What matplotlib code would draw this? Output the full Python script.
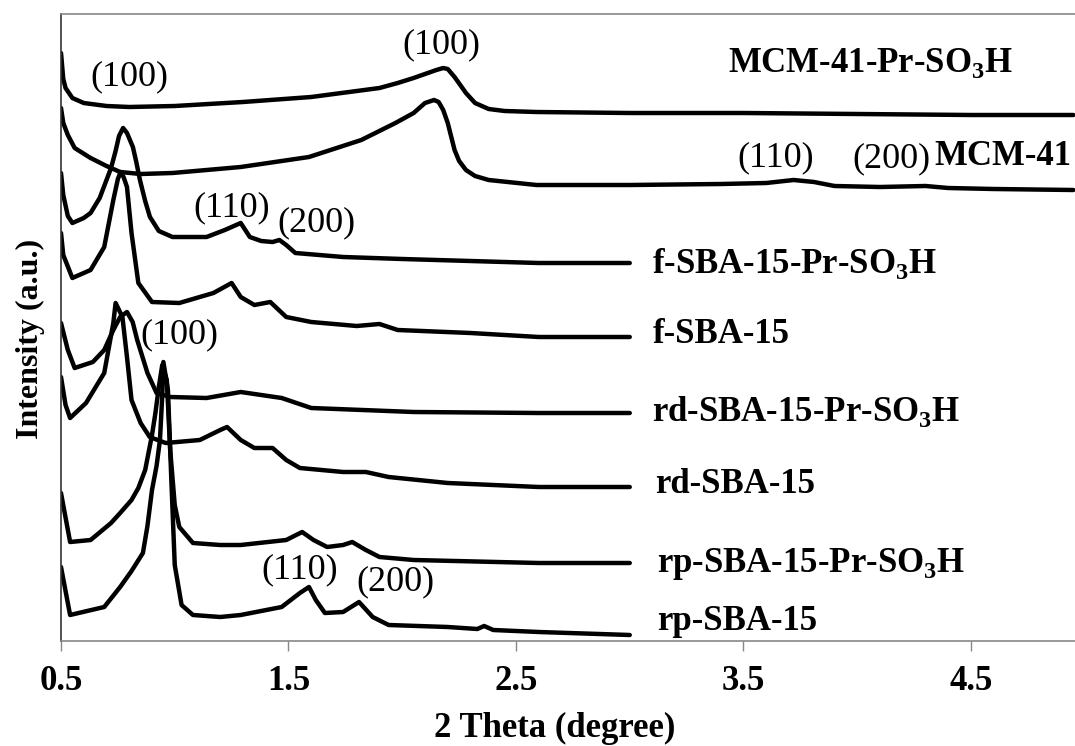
import numpy as np
import matplotlib
matplotlib.use('Agg')
import matplotlib.pyplot as plt

plt.rcParams['font.family'] = ['Liberation Serif', 'DejaVu Serif']
plt.rcParams['mathtext.fontset'] = 'custom'
plt.rcParams['mathtext.rm'] = 'Liberation Serif'
plt.rcParams['mathtext.bf'] = 'Liberation Serif:bold'

# low-angle XRD patterns, stacked (intensity in arbitrary offset units)
tt_mcm_pr = [0.50, 0.51, 0.52, 0.55, 0.60, 0.70, 0.80, 1.00, 1.30, 1.60, 1.90, 1.98, 2.05, 2.10,
             2.15, 2.18, 2.20, 2.23, 2.28, 2.32, 2.38, 2.45, 2.59, 3.00, 3.50, 4.00, 4.50, 4.95]
int_mcm_pr = [588, 562, 553, 543, 538, 535, 534, 535, 539, 544, 553, 558, 563, 567,
              571, 573, 572, 564, 548, 538, 532, 530, 529, 528, 528, 527, 526, 526]

tt_mcm = [0.50, 0.51, 0.53, 0.56, 0.63, 0.70, 0.76, 0.85, 0.99, 1.29, 1.59, 1.82, 1.97, 2.05, 2.10,
          2.14, 2.16, 2.18, 2.20, 2.23, 2.25, 2.28, 2.32, 2.38, 2.59, 3.00, 3.40, 3.60, 3.72,
          3.81, 3.90, 4.10, 4.30, 4.40, 4.60, 4.95]
int_mcm = [533, 518, 506, 493, 483, 475, 469, 467, 468, 474, 484, 501, 518, 528, 538,
           541, 539, 531, 518, 491, 480, 471, 465, 461, 456, 456, 457, 458, 461,
           459, 455, 454, 455, 453, 452, 451]

tt_f_pr = [0.50, 0.51, 0.53, 0.55, 0.60, 0.63, 0.67, 0.70, 0.72, 0.74, 0.755, 0.773, 0.79, 0.816,
           0.83, 0.847, 0.87, 0.891, 0.93, 0.99, 1.14, 1.22, 1.26, 1.29, 1.33, 1.38, 1.43, 1.46,
           1.49, 1.53, 1.74, 2.00, 2.60, 3.00]
int_f_pr = [468, 446, 425, 418, 423, 428, 443, 461, 473, 490, 505, 513, 508, 494,
            480, 461, 440, 424, 410, 404, 404, 411, 415, 418, 404, 400, 399, 401,
            396, 388, 384, 382, 378, 378]

tt_f = [0.50, 0.51, 0.55, 0.63, 0.69, 0.73, 0.75, 0.762, 0.775, 0.79, 0.81, 0.84, 0.90, 1.02,
        1.17, 1.25, 1.29, 1.35, 1.42, 1.49, 1.60, 1.80, 1.90, 1.98, 2.30, 2.60, 3.00]
int_f = [408, 386, 363, 371, 394, 441, 462, 469, 464, 454, 408, 358, 339, 338,
         348, 358, 344, 336, 339, 324, 319, 315, 317, 311, 308, 304, 304]

tt_rd_pr = [0.50, 0.53, 0.56, 0.64, 0.69, 0.73, 0.76, 0.79, 0.815, 0.835, 0.88, 0.92, 0.98, 1.14,
            1.29, 1.47, 1.60, 2.05, 2.60, 3.00]
int_rd_pr = [318, 291, 273, 279, 291, 311, 324, 329, 319, 301, 268, 248, 244, 243,
             249, 243, 233, 229, 228, 228]

tt_rd = [0.50, 0.52, 0.54, 0.61, 0.69, 0.73, 0.74, 0.77, 0.79, 0.81, 0.85, 0.89, 0.96, 1.11,
         1.20, 1.23, 1.29, 1.35, 1.43, 1.49, 1.55, 1.74, 1.84, 1.94, 2.20, 2.60, 3.00]
int_rd = [264, 236, 223, 238, 268, 318, 338, 324, 284, 241, 218, 204, 198, 201,
          211, 214, 201, 193, 193, 181, 173, 169, 169, 164, 158, 154, 154]

tt_rp_pr = [0.50, 0.54, 0.63, 0.72, 0.76, 0.81, 0.84, 0.87, 0.90, 0.915, 0.93, 0.945, 0.965, 0.98,
            1.00, 1.02, 1.08, 1.20, 1.29, 1.49, 1.56, 1.61, 1.67, 1.74, 1.78, 1.84, 1.90, 2.05,
            2.60, 3.00]
int_rp_pr = [148, 99, 101, 118, 128, 141, 153, 171, 206, 228, 254, 276, 261, 191,
             136, 114, 98, 96, 96, 101, 109, 101, 94, 96, 99, 91, 84, 81,
             78, 78]

tt_rp = [0.50, 0.54, 0.69, 0.76, 0.81, 0.86, 0.88, 0.90, 0.92, 0.935, 0.945, 0.95, 0.97, 0.985,
         1.00, 1.03, 1.08, 1.20, 1.29, 1.47, 1.55, 1.59, 1.62, 1.66, 1.74, 1.81, 1.87, 1.94,
         2.20, 2.33, 2.36, 2.40, 2.60, 3.00]
int_rp = [74, 26, 34, 54, 70, 88, 115, 151, 175, 201, 245, 279, 251, 161,
          76, 36, 26, 24, 26, 34, 48, 54, 41, 28, 29, 39, 24, 16,
          14, 12, 15, 11, 9, 6]

patterns = [(tt_mcm_pr, int_mcm_pr), (tt_mcm, int_mcm), (tt_f_pr, int_f_pr), (tt_f, int_f),
            (tt_rd_pr, int_rd_pr), (tt_rd, int_rd), (tt_rp_pr, int_rp_pr), (tt_rp, int_rp)]

sample_names = [r'MCM-41-Pr-SO$_\mathbf{3}$H', 'MCM-41', r'f-SBA-15-Pr-SO$_\mathbf{3}$H', 'f-SBA-15',
                r'rd-SBA-15-Pr-SO$_\mathbf{3}$H', 'rd-SBA-15', r'rp-SBA-15-Pr-SO$_\mathbf{3}$H', 'rp-SBA-15']
name_pos = [(3.43, 569), (4.34, 476), (3.10, 368), (3.10, 298),
            (3.10, 220), (3.11, 148), (3.12, 69), (3.12, 11)]

# (hkl) reflections: label, 2theta, height
hkl_labels = ['(100)', '(100)', '(110)', '(200)', '(110)', '(200)', '(100)', '(110)', '(200)']
hkl_pos = [(0.80, 556), (2.17, 588), (3.64, 475), (4.15, 474), (1.25, 425), (1.625, 410),
           (1.02, 298), (1.55, 63), (1.97, 51)]

fig = plt.figure(figsize=(10.75, 7.46), dpi=100)
ax = fig.add_axes([61/1075, 105/746, 1014/1075, 627/746])

for tt, inten in patterns:
    ax.plot(tt, inten, color='black', lw=3.2, solid_joinstyle='round', solid_capstyle='round')

for name, (x, y) in zip(sample_names, name_pos):
    ax.text(x, y, name, fontsize=25, fontweight='bold', ha='left', va='baseline')

for lab, (x, y) in zip(hkl_labels, hkl_pos):
    ax.text(x, y, lab, fontsize=26, ha='center', va='baseline')

ax.set_xlim(0.5, 0.5 + 1014/227.5)
ax.set_ylim(0, 627)
ax.set_xticks([0.5, 1.5, 2.5, 3.5, 4.5])
ax.set_xticklabels(['0.5', '1.5', '2.5', '3.5', '4.5'], fontsize=25, fontweight='bold')
ax.set_yticks([])
ax.tick_params(axis='x', direction='out', length=7, width=1, color='#888888', pad=10)

ax.spines['right'].set_visible(False)
ax.spines['top'].set_color('#888888')
ax.spines['bottom'].set_color('#888888')
ax.spines['left'].set_color('#333333')
for s in ['top', 'bottom', 'left']:
    ax.spines[s].set_linewidth(1.2)

fig.text(555/1075, 9/746, '2 Theta (degree)', fontsize=25, fontweight='bold', ha='center', va='baseline')
fig.text(30/1075, 1 - 339/746, 'Intensity (a.u.)', fontsize=23, fontweight='bold',
         rotation=90, ha='center', va='center')

fig.savefig('out.png', dpi=100)
